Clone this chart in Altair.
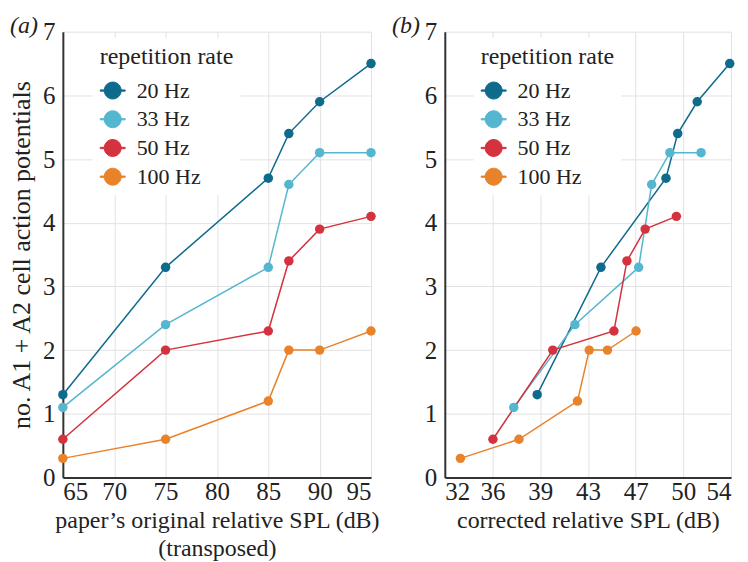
import altair as alt
import pandas as pd

FONT = "Liberation Serif, Times New Roman, Tinos, DejaVu Serif, serif"

rates = ["20 Hz", "33 Hz", "50 Hz", "100 Hz"]
colors = ["#0e6b8c", "#55b6cf", "#d3323e", "#e8832b"]

# panel (a): paper's original relative SPL (dB)
orig_spl = [65, 75, 85, 87, 90, 95]
ap_20 = [1.3, 3.3, 4.7, 5.4, 5.9, 6.5]
ap_33 = [1.1, 2.4, 3.3, 4.6, 5.1, 5.1]
ap_50 = [0.6, 2.0, 2.3, 3.4, 3.9, 4.1]
ap_100 = [0.3, 0.6, 1.2, 2.0, 2.0, 2.3]

# panel (b): corrected relative SPL (dB)
corr_20 = [39.1, 44.0, 49.0, 49.9, 51.4, 53.9]
corr_33 = [37.3, 42.0, 46.9, 47.9, 49.3, 51.7]
corr_50 = [35.7, 40.3, 45.0, 46.0, 47.4, 49.8]
corr_100 = [33.2, 37.7, 42.2, 43.1, 44.5, 46.7]

x_ticks_a = [65, 70, 75, 80, 85, 90, 95]
x_ticks_b = [32, 35.67, 39.33, 43, 46.67, 50.33, 54]
y_ticks = [0, 1, 2, 3, 4, 5, 6, 7]

series_ap = [ap_20, ap_33, ap_50, ap_100]
series_corr = [corr_20, corr_33, corr_50, corr_100]

rows = []
for r, ap, cx in zip(rates, series_ap, series_corr):
    for o, a, c in zip(orig_spl, ap, cx):
        rows.append({"rate": r, "orig": o, "corr": c, "ap": a})
df = pd.DataFrame(rows)

SYM = ("M-1,-0.05 L1,-0.05 L1,0.05 L-1,0.05 Z "
       "M0.68,0 A0.68,0.68 0 1,1 -0.68,0 A0.68,0.68 0 1,1 0.68,0 Z")


def panel(xfield, domain, ticks, fmt, width, xtitle, ytitle, label, legx):
    base = alt.Chart(df)
    color = alt.Color(
        "rate:N",
        scale=alt.Scale(domain=rates, range=colors),
        legend=alt.Legend(
            title="repetition rate",
            orient="none",
            legendX=legx,
            legendY=6,
            fillColor="white",
            padding=7,
            symbolType=SYM,
            symbolSize=625,
            symbolStrokeWidth=1.0,
            labelFont=FONT,
            labelFontSize=22,
            labelColor="#222",
            labelOffset=11,
            titleFont=FONT,
            titleFontSize=24,
            titleFontWeight="normal",
            titleColor="#222",
            titlePadding=9,
            rowPadding=4.8,
        ),
    )
    x = alt.X(
        f"{xfield}:Q",
        scale=alt.Scale(domain=domain, nice=False, zero=False),
        axis=alt.Axis(values=ticks, format=fmt, title=xtitle, labelPadding=2,
                      titlePadding=4, titleLineHeight=28),
    )
    if ytitle is None:
        yaxis = alt.Axis(values=y_ticks, labelPadding=8, title=None)
    else:
        yaxis = alt.Axis(values=y_ticks, labelPadding=8, titlePadding=8,
                         title=ytitle, titleFontSize=26)
    y = alt.Y("ap:Q", scale=alt.Scale(domain=[0, 7], nice=False), axis=yaxis)
    lines = base.mark_line(strokeWidth=1.5).encode(x=x, y=y, color=color)
    pts = base.mark_circle(size=90, opacity=1).encode(x=x, y=y, color=color)
    lab = (
        alt.Chart(pd.DataFrame({"t": [label]}))
        .mark_text(font=FONT, fontSize=24, fontStyle="italic", align="left",
                   baseline="middle", color="#222")
        .encode(x=alt.value(-53), y=alt.value(-6), text="t:N")
    )
    return alt.layer(lines, pts, lab).properties(width=width, height=447)


left = panel("orig", [65, 95], x_ticks_a, "d", 309,
             ["paper\u2019s original relative SPL (dB)", "(transposed)"],
             "no. A1 + A2 cell action potentials", "(a)", 30)
right = panel("corr", [32, 54], x_ticks_b, ".0f", 287,
              "corrected relative SPL (dB)", None, "(b)", 29)

chart = (
    alt.hconcat(left, right, spacing=12)
    .resolve_scale(x="independent", y="independent", color="independent")
    .resolve_legend(color="independent")
    .properties(padding={"left": 0, "top": 5, "right": 5, "bottom": 0})
    .configure_view(stroke=None)
    .configure_axis(
        domainColor="#333",
        domainWidth=2,
        ticks=False,
        gridColor="#e2e2e2",
        gridWidth=1,
        labelFont=FONT,
        labelFontSize=25,
        labelColor="#222",
        titleFont=FONT,
        titleFontSize=24,
        titleFontWeight="normal",
        titleColor="#222",
    )
)

chart.save("out.html", embed_options={"renderer": "svg", "actions": False})
